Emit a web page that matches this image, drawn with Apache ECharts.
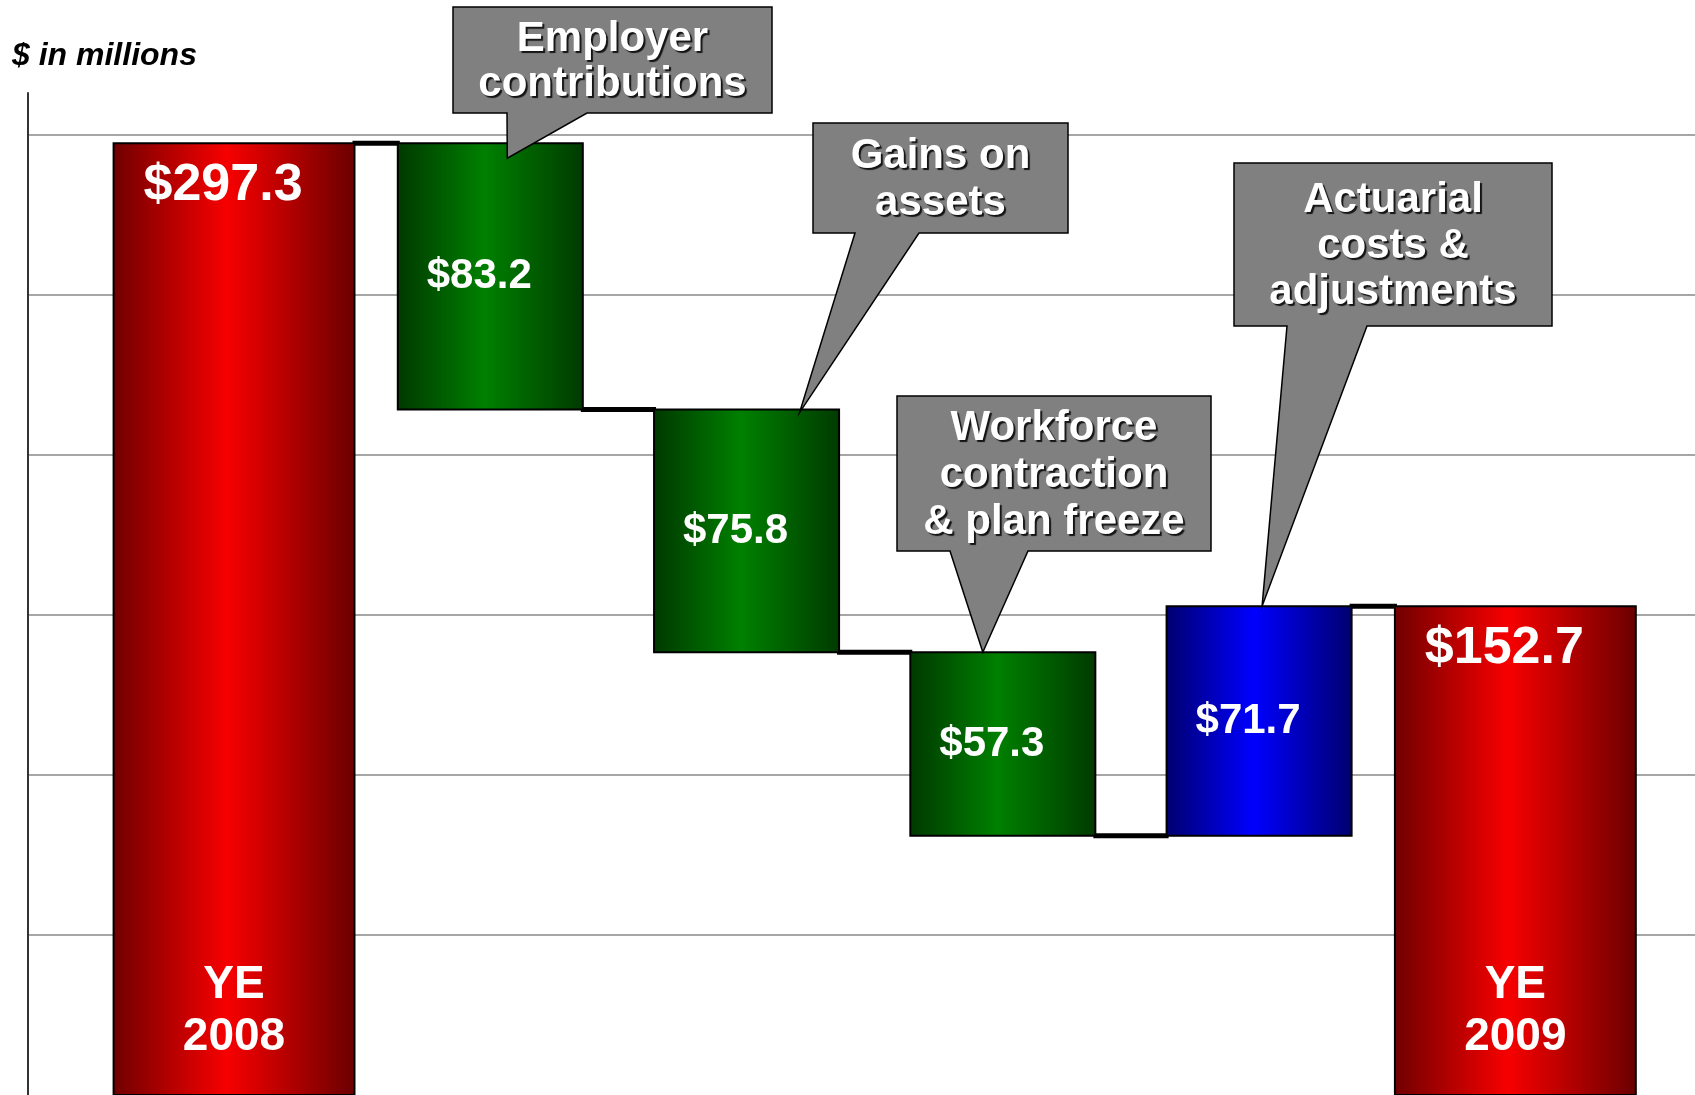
<!DOCTYPE html>
<html>
<head>
<meta charset="utf-8">
<title>Pension bridge YE 2008 to YE 2009</title>
<script src="https://cdn.jsdelivr.net/npm/echarts@6/dist/echarts.min.js"></script>
<style>
  html, body { margin: 0; padding: 0; background: #fff; }
  #chart { width: 1695px; height: 1095px; }
</style>
</head>
<body>
<div id="chart"></div>
<script>
// --- data ---
const categories = ['YE 2008', 'Employer contributions', 'Gains on assets',
  'Workforce contraction & plan freeze', 'Actuarial costs & adjustments', 'YE 2009']
const changes = [297.3, -83.2, -75.8, -57.3, 71.7, 152.7]
const kinds = ['total', 'down', 'down', 'down', 'up', 'total']
const valueLabels = ['$297.3', '$83.2', '$75.8', '$57.3', '$71.7', '$152.7']
const bottomLabels = ['YE\n2008', '', '', '', '', 'YE\n2009']
const calloutTexts = ['Employer\ncontributions', 'Gains on\nassets',
  'Workforce\ncontraction\n& plan freeze', 'Actuarial\ncosts &\nadjustments']
const calloutBars = [1, 2, 3, 4]
const yStep = 50

// running totals -> [index, low, high, level after bar]
let running = 0
const bars = changes.map((v, i) => {
  let lo, hi
  if (kinds[i] === 'total') {
    lo = 0; hi = v; running = v
  } else {
    const next = running + v
    lo = Math.min(running, next); hi = Math.max(running, next); running = next
  }
  return [i, lo, hi, running]
})

// --- styling ---
const FONT = '"Liberation Sans", Arial, Helvetica, sans-serif'
const widthShare = { total: 0.94, down: 0.722, up: 0.722 }
const fills = {
  total: ['#700000', '#f70000', '#6a0000'],
  down: ['#003800', '#008000', '#003a00'],
  up: ['#00006e', '#0000ff', '#00006e'],
}

// callout boxes in pixels: [x1, y1, x2, y2], pointer base [bx1, bx2], tip offset from bar top centre
const calloutLayout = [
  { box: [453, 7, 772, 113], base: [507, 587], tip: [17, 15], lh: 45 },
  { box: [813, 123, 1068, 233], base: [855, 919], tip: [53, 3], lh: 47 },
  { box: [897, 396, 1211, 551], base: [950, 1028], tip: [-20, 0], lh: 47 },
  { box: [1234, 163, 1552, 326], base: [1287, 1367], tip: [3, 0], lh: 46 },
]

function renderBar(params, api) {
  const idx = params.dataIndex
  const kind = kinds[idx]
  const band = api.size([1, 0])[0]
  const w = band * widthShare[kind]
  const top = api.coord([api.value(0), api.value(2)])
  const bot = api.coord([api.value(0), api.value(1)])
  const c = fills[kind]
  const children = []

  if (idx < bars.length - 1) {
    const lvl = api.coord([api.value(0), api.value(3)])
    const nextW = band * widthShare[kinds[idx + 1]]
    children.push({
      type: 'line',
      z2: 0,
      shape: { x1: top[0] + w / 2 - 2, y1: lvl[1], x2: top[0] + band - nextW / 2 + 2, y2: lvl[1] },
      style: { stroke: '#000', lineWidth: 5 },
    })
  }

  children.push({
    type: 'rect',
    z2: 1,
    shape: { x: top[0] - w / 2, y: top[1], width: w, height: bot[1] - top[1] },
    style: {
      fill: {
        type: 'linear', x: 0, y: 0, x2: 1, y2: 0,
        colorStops: [
          { offset: 0, color: c[0] },
          { offset: 0.47, color: c[1] },
          { offset: 1, color: c[2] },
        ],
      },
      stroke: '#000',
      lineWidth: 2,
    },
  })

  const isTotal = kind === 'total'
  children.push({
    type: 'text',
    z2: 2,
    x: top[0] - 11,
    y: isTotal ? top[1] + 42 : (top[1] + bot[1]) / 2,
    style: {
      text: valueLabels[idx],
      fill: '#fff',
      font: `bold ${isTotal ? 52 : 42}px ${FONT}`,
      align: 'center', textAlign: 'center',
      verticalAlign: 'middle', textVerticalAlign: 'middle',
    },
  })

  if (bottomLabels[idx]) {
    children.push({
      type: 'text',
      z2: 2,
      x: top[0],
      y: bot[1] - 84,
      style: {
        text: bottomLabels[idx],
        fill: '#fff',
        font: `bold 46px ${FONT}`,
        lineHeight: 52,
        align: 'center', textAlign: 'center',
        verticalAlign: 'middle', textVerticalAlign: 'middle',
      },
    })
  }
  return { type: 'group', children }
}

const chart = echarts.init(document.getElementById('chart'))
chart.setOption({
  animation: false,
  backgroundColor: '#fff',
  title: {
    text: '$ in millions',
    left: 12,
    top: 40,
    padding: 0,
    textStyle: { fontSize: 32, fontWeight: 'bold', fontStyle: 'italic', color: '#000', fontFamily: FONT },
  },
  grid: { left: 28, right: 0, top: 93, bottom: 0 },
  xAxis: { type: 'value', min: -0.804, max: 5.701, show: false },
  yAxis: {
    type: 'value',
    min: 0,
    max: 313,
    interval: yStep,
    axisLine: { show: true, onZero: false, lineStyle: { color: '#333', width: 2 } },
    axisTick: { show: false },
    axisLabel: { show: false },
    splitLine: { show: true, showMinLine: false, showMaxLine: false, lineStyle: { color: '#a6a6a6', width: 2 } },
  },
  series: [{
    type: 'custom',
    name: 'bridge',
    renderItem: renderBar,
    encode: { x: 0, y: [1, 2] },
    data: bars.map((b, i) => ({ name: categories[i], value: b })),
  }],
})

// callouts, tips anchored to the bar tops
const graphics = []
calloutTexts.forEach((txt, k) => {
  const L = calloutLayout[k]
  const b = bars[calloutBars[k]]
  const p = chart.convertToPixel({ seriesIndex: 0 }, [b[0], b[2]])
  const tx = p[0] + L.tip[0]
  const ty = p[1] + L.tip[1]
  const [x1, y1, x2, y2] = L.box
  graphics.push({
    type: 'polygon',
    z: 10,
    shape: { points: [[x1, y1], [x2, y1], [x2, y2], [L.base[1], y2], [tx, ty], [L.base[0], y2], [x1, y2]] },
    style: { fill: '#808080', stroke: '#000', lineWidth: 1.5 },
  })
  graphics.push({
    type: 'text',
    z: 11,
    x: (x1 + x2) / 2,
    y: (y1 + y2) / 2 + 2,
    style: {
      text: txt,
      fill: '#fff',
      font: `bold 42px ${FONT}`,
      lineHeight: L.lh,
      align: 'center', textAlign: 'center',
      verticalAlign: 'middle', textVerticalAlign: 'middle',
      textShadowColor: 'rgba(0,0,0,0.85)',
      textShadowOffsetX: 2,
      textShadowOffsetY: 2,
      textShadowBlur: 1,
    },
  })
})
chart.setOption({ graphic: graphics })
</script>
</body>
</html>
